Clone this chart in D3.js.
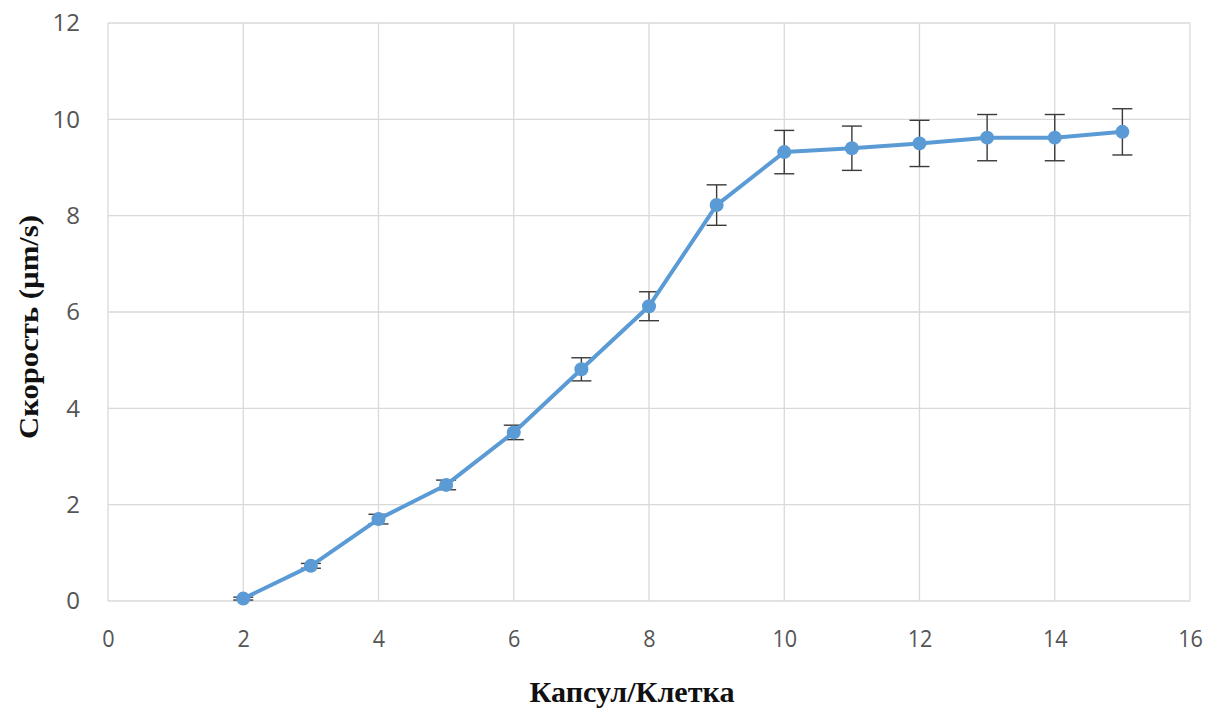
<!DOCTYPE html>
<html>
<head>
<meta charset="utf-8">
<script src="https://cdn.jsdelivr.net/npm/d3@7"></script>
<style>
body { margin: 0; background: #fff; }
</style>
</head>
<body>
<div id="chart-area"></div>
<script>
// data
var capsules = [2, 3, 4, 5, 6, 7, 8, 9, 10, 11, 12, 13, 14, 15];
var speed = [0.05, 0.73, 1.70, 2.41, 3.50, 4.81, 6.12, 8.22, 9.32, 9.40, 9.50, 9.62, 9.62, 9.74];
var errors = [0.03, 0.05, 0.10, 0.10, 0.15, 0.24, 0.30, 0.42, 0.45, 0.46, 0.48, 0.48, 0.48, 0.48];
var xTicks = [0, 2, 4, 6, 8, 10, 12, 14, 16];
var yTicks = [0, 2, 4, 6, 8, 10, 12];

var W = 1210, H = 709;
var margin = {top: 23, right: 20, bottom: 108, left: 108};
var width = 1190 - margin.left;
var height = 601 - margin.top;

var svg = d3.select("#chart-area").append("svg")
.attr("width", W)
.attr("height", H)

var g = svg.append("g")
.attr("transform", "translate(" + margin.left + ", " + margin.top + ")")

var x = d3.scaleLinear()
.domain([0, 16])
.range([0, width])

var y = d3.scaleLinear()
.domain([0, 12])
.range([height, 0])

// grid
g.selectAll(".vgrid").data(xTicks).enter().append("line")
.attr("x1", d => x(d)).attr("x2", d => x(d))
.attr("y1", 0).attr("y2", height)
.attr("stroke", "#d9d9d9").attr("stroke-width", 1.3)

g.selectAll(".hgrid").data(yTicks).enter().append("line")
.attr("x1", 0).attr("x2", width)
.attr("y1", d => y(d)).attr("y2", d => y(d))
.attr("stroke", "#d9d9d9").attr("stroke-width", 1.3)

// axes (labels only)
var xAxis = g.append("g")
.attr("transform", "translate(0, " + height + ")")
.call(d3.axisBottom(x).tickValues(xTicks).tickSize(0).tickPadding(29))
xAxis.select(".domain").remove()
xAxis.selectAll("text")
.attr("font-family", "'Open Sans', sans-serif")
.attr("font-size", "24px")
.attr("fill", "#555")
.attr("transform", "scale(0.9, 1)")

var yAxis = g.append("g")
.call(d3.axisLeft(y).tickValues(yTicks).tickSize(0).tickPadding(28))
yAxis.select(".domain").remove()
yAxis.selectAll("text")
.attr("font-family", "'Open Sans', sans-serif")
.attr("font-size", "24px")
.attr("fill", "#555")

// error bars
var capW = 10;
var eb = g.selectAll(".err").data(capsules).enter().append("g")
.attr("stroke", "#3a3a3a").attr("stroke-width", 1.4)
eb.append("line")
.attr("x1", d => x(d)).attr("x2", d => x(d))
.attr("y1", (d, i) => y(speed[i] + errors[i]))
.attr("y2", (d, i) => y(speed[i] - errors[i]))
eb.append("line")
.attr("x1", d => x(d) - capW).attr("x2", d => x(d) + capW)
.attr("y1", (d, i) => y(speed[i] + errors[i]))
.attr("y2", (d, i) => y(speed[i] + errors[i]))
eb.append("line")
.attr("x1", d => x(d) - capW).attr("x2", d => x(d) + capW)
.attr("y1", (d, i) => y(speed[i] - errors[i]))
.attr("y2", (d, i) => y(speed[i] - errors[i]))

// line
var line = d3.line()
.x((d, i) => x(capsules[i]))
.y(d => y(d))

g.append("path")
.datum(speed)
.attr("d", line)
.attr("fill", "none")
.attr("stroke", "#5b9bd5")
.attr("stroke-width", 4)
.attr("stroke-linejoin", "round")

g.selectAll("circle").data(speed).enter().append("circle")
.attr("cx", (d, i) => x(capsules[i]))
.attr("cy", d => y(d))
.attr("r", 7)
.attr("fill", "#5b9bd5")

// Axis titles
svg.append("text")
.attr("x", 632)
.attr("y", 702)
.attr("text-anchor", "middle")
.attr("font-family", "'Liberation Serif', serif")
.attr("font-weight", "bold")
.attr("font-size", "29px")
.attr("textLength", 205)
.attr("lengthAdjust", "spacingAndGlyphs")
.attr("fill", "#111")
.text("Капсул/Клетка")

svg.append("text")
.attr("transform", "translate(38, 327) rotate(-90)")
.attr("text-anchor", "middle")
.attr("font-family", "'Liberation Serif', serif")
.attr("font-weight", "bold")
.attr("font-size", "27px")
.attr("textLength", 224)
.attr("lengthAdjust", "spacingAndGlyphs")
.attr("fill", "#111")
.text("Скорость (µm/s)")
</script>
</body>
</html>
